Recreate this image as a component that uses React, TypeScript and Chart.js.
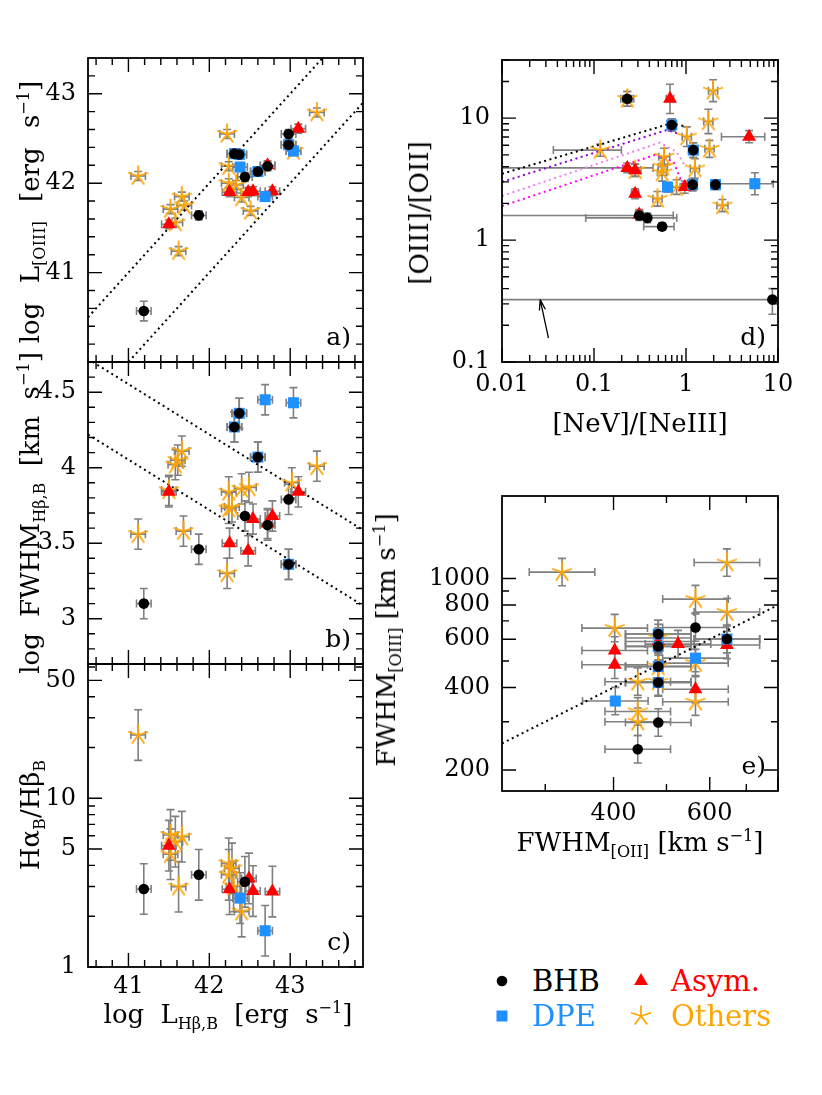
import React, { useEffect, useRef } from 'react';
import { Chart, registerables } from 'chart.js';

Chart.register(...registerables);

const FONT = '"DejaVu Serif", "Liberation Serif", serif';
const TICK_SIZE = 24;
const COL_BHB = '#000000';
const COL_DPE = '#1E90FF';
const COL_ASYM = '#FF0000';
const COL_OTH = '#FFA500';
const COL_ERR = '#808080';

// ---------- Panel a: log L(Hb,B) vs log L[OIII]  (tuples [x, y]; default errors per panel)
const A_BHB = [[41.19, 40.57, 0.09, 0.11], [41.87, 41.64], [42.31, 42.33], [42.37, 42.32], [42.44, 42.07], [42.60, 42.13], [42.72, 42.19], [42.98, 42.55], [42.98, 42.43]];
const A_DPE = [[42.31, 42.33], [42.37, 42.32], [42.38, 42.18], [42.60, 42.13], [42.98, 42.43], [43.04, 42.36], [42.69, 41.85]];
const A_ASYM = [[41.50, 41.54], [42.25, 41.90], [42.48, 41.90], [42.54, 41.91], [42.78, 41.91], [42.72, 42.20], [43.10, 42.61]];
const A_OTH = [[41.12, 42.08], [42.22, 42.55], [43.33, 42.79], [42.24, 42.19], [42.24, 42.00], [42.33, 41.98], [42.40, 41.84], [42.51, 41.69], [41.66, 41.85], [41.69, 41.75], [41.52, 41.71], [41.58, 41.56], [41.62, 41.24], [43.04, 42.36]];
const A_LINE1 = [[40.5, 40.5], [43.9, 43.9]];
const A_LINE2 = [[40.5, 39.5], [43.9, 42.9]];

// ---------- Panel b: log L(Hb,B) vs log FWHM(Hb,B)
const B_BHB = [[42.37, 4.36], [42.31, 4.27], [42.60, 4.07], [42.98, 3.79], [42.44, 3.68], [42.72, 3.62], [41.87, 3.46], [41.19, 3.10], [42.98, 3.36]];
const B_DPE = [[42.37, 4.36], [42.31, 4.27], [42.60, 4.07], [42.98, 3.36], [42.69, 4.45], [43.04, 4.43]];
const B_ASYM = [[41.50, 3.84], [42.25, 3.50], [42.48, 3.45], [42.54, 3.66], [42.78, 3.68], [43.10, 3.84], [42.72, 3.63]];
const B_OTH = [[41.12, 3.56], [41.66, 4.11], [41.61, 4.05], [41.58, 4.02], [41.50, 3.85], [41.68, 3.58], [42.22, 3.30], [42.24, 3.84], [42.40, 3.86], [42.49, 3.87], [42.24, 3.73], [42.28, 3.74], [43.02, 3.90], [43.33, 4.01]];
const B_LINE1 = [[40.5, 4.72], [43.9, 3.587]];
const B_LINE2 = [[40.5, 4.22], [43.9, 3.087]];

// ---------- Panel c: log L(Hb,B) vs Ha_B/Hb_B (y errors in dex)
const C_BHB = [[41.19, 2.90], [41.87, 3.52], [42.44, 3.20]];
const C_DPE = [[42.38, 2.56], [42.69, 1.64]];
const C_ASYM = [[41.50, 5.24], [42.25, 2.89], [42.54, 2.82], [42.78, 2.80], [42.49, 3.35]];
const C_OTH = [[41.12, 23.7], [41.52, 6.06], [41.58, 5.53], [41.66, 5.92], [41.52, 4.66], [41.62, 2.99], [42.24, 4.12], [42.28, 3.84], [42.24, 3.52], [42.40, 2.13], [42.30, 3.0]];

// ---------- Panel d: [NeV]/[NeIII] vs [OIII]/[OII]  ([x, y, exLo, exHi, eyLo, eyHi] in dex)
const D_BHB = [[0.23, 14.4, 0.05, 0.05, 0.06, 0.06], [0.70, 8.8, 0.04, 0.04, 0.05, 0.05], [1.20, 5.47, 0.05, 0.05, 0.06, 0.06], [1.18, 2.85, 0.05, 0.05, 0.05, 0.05], [2.09, 2.85, 0.05, 0.05, 0.04, 0.04], [0.31, 1.59, 2.5, 0.37, 0.04, 0.04], [0.38, 1.52, 0.67, 0.32, 0.04, 0.04], [0.55, 1.29, 0.2, 0.13, 0.03, 0.03], [8.69, 0.325, 3.5, 0, 0.12, 0.09]];
const D_DPE = [[0.70, 8.8, 0.04, 0.04, 0.05, 0.05], [1.20, 5.47, 0.05, 0.05, 0.06, 0.06], [1.18, 2.85, 0.05, 0.05, 0.05, 0.05], [2.09, 2.85, 0.05, 0.05, 0.04, 0.04], [0.63, 2.72, 0.04, 0.04, 0.04, 0.04], [5.6, 2.9, 0.43, 0.2, 0.09, 0.09]];
const D_ASYM = [[0.67, 14.4, 0.04, 0.04, 0.12, 0.12], [0.23, 3.91, 2.5, 0.28, 0.04, 0.04], [0.28, 3.74, 0.06, 0.06, 0.05, 0.05], [0.28, 2.40, 0.04, 0.04, 0.04, 0.04], [0.31, 1.62, 0.04, 0.04, 0.04, 0.04], [4.85, 7.05, 0.3, 0.17, 0.05, 0.05], [0.97, 2.72, 0.05, 0.05, 0.05, 0.05]];
const D_OTH = [[0.23, 14.4, 0.07, 0.07, 0.06, 0.06], [0.117, 5.47, 0.51, 0.23, 0.05, 0.05], [1.97, 16.8, 0.05, 0.05, 0.09, 0.09], [1.75, 9.4, 0.05, 0.05, 0.1, 0.1], [1.8, 5.6, 0.05, 0.05, 0.07, 0.07], [1.02, 7.05, 0.05, 0.05, 0.08, 0.08], [1.25, 3.87, 0.05, 0.05, 0.08, 0.08], [0.58, 4.82, 0.06, 0.06, 0.07, 0.07], [0.56, 4.0, 0.05, 0.05, 0.07, 0.07], [0.55, 3.58, 0.05, 0.05, 0.07, 0.07], [0.49, 2.18, 0.05, 0.05, 0.06, 0.06], [0.79, 2.72, 0.05, 0.05, 0.06, 0.06], [2.49, 1.92, 0.06, 0.06, 0.05, 0.05], [0.28, 3.74, 0.06, 0.06, 0.05, 0.05]];
const D_CURVE_BLACK = [[0.01, 3.5], [0.7, 9.1], [1.02, 8.5]];
const D_CURVE_PURPLE = [[0.01, 3.0], [0.62, 8.0], [0.85, 7.4]];
const D_CURVE_VIOLET = [[0.01, 2.3], [0.52, 6.3], [0.79, 5.3], [0.97, 4.1]];
const D_CURVE_MAGENTA = [[0.01, 1.9], [0.46, 5.0], [0.73, 4.4], [0.93, 2.8], [1.0, 2.6]];
const D_ARROW = [[0.032, 0.157], [0.026, 0.325]];

// ---------- Panel e: FWHM[OII] vs FWHM[OIII] (errors in dex)
const E_BHB = [[483, 627], [483, 565], [483, 477], [483, 417], [483, 298], [443, 238], [565, 662], [645, 601]];
const E_DPE = [[483, 627], [483, 565], [483, 477], [483, 417], [645, 601], [403, 357], [565, 512]];
const E_ASYM = [[402, 546], [402, 484], [483, 589], [525, 576], [565, 394], [645, 572]];
const E_OTH = [[322, 1055], [645, 1143], [565, 841], [645, 754], [402, 659], [483, 606], [483, 477], [565, 491], [443, 420], [443, 327], [443, 300], [565, 355], [483, 420]];
const E_LINE = [[250, 250], [800, 800]];

// ---------- Axis ticks
const X_LHB_MAJOR = [41, 42, 43];
const X_LHB_MINOR = [40.6, 40.8, 41.2, 41.4, 41.6, 41.8, 42.2, 42.4, 42.6, 42.8, 43.2, 43.4, 43.6, 43.8];
const A_Y_MAJOR = [41, 42, 43];
const A_Y_MINOR = [40.2, 40.4, 40.6, 40.8, 41.2, 41.4, 41.6, 41.8, 42.2, 42.4, 42.6, 42.8, 43.2];
const B_Y_MAJOR = [3, 3.5, 4, 4.5];
const B_Y_MINOR = [2.8, 2.9, 3.1, 3.2, 3.3, 3.4, 3.6, 3.7, 3.8, 3.9, 4.1, 4.2, 4.3, 4.4, 4.6];
const C_Y_MAJOR = [1, 5, 10, 50];
const C_Y_MINOR = [2, 3, 4, 6, 7, 8, 9, 20, 30, 40, 60];
const D_X_MAJOR = [0.01, 0.1, 1, 10];
const D_X_MINOR = [0.02, 0.03, 0.04, 0.05, 0.06, 0.07, 0.08, 0.09, 0.2, 0.3, 0.4, 0.5, 0.6, 0.7, 0.8, 0.9, 2, 3, 4, 5, 6, 7, 8, 9];
const D_Y_MAJOR = [0.1, 1, 10];
const D_Y_MINOR = [0.2, 0.3, 0.4, 0.5, 0.6, 0.7, 0.8, 0.9, 2, 3, 4, 5, 6, 7, 8, 9, 20, 30];
const E_X_MAJOR = [400, 600, 800];
const E_X_MINOR = [300, 500, 700];
const E_X_LABELS = [400, 600];
const E_Y_MAJOR = [200, 400, 600, 800, 1000];
const E_Y_MINOR = [300, 500, 700, 900];

type Axis = { type: 'linear' | 'logarithmic'; min: number; max: number; major: number[]; minor: number[]; labels: number[] | null };
type Panel = {
  id: string; area: number[]; x: Axis; y: Axis; err: number[];
  groups: number[][][]; lines: { pts: number[][]; color: string }[];
  tag: string; arrow?: number[][]; xPad: number;
};

const XL: Axis = { type: 'linear', min: 40.5, max: 43.9, major: X_LHB_MAJOR, minor: X_LHB_MINOR, labels: X_LHB_MAJOR };

const PANELS: Panel[] = [
  {
    id: 'a', area: [88, 58, 363, 362], err: [0.09, 0.05], tag: 'a)', xPad: 6,
    x: { ...XL, labels: null },
    y: { type: 'linear', min: 40, max: 43.4, major: A_Y_MAJOR, minor: A_Y_MINOR, labels: A_Y_MAJOR },
    groups: [A_BHB, A_DPE, A_ASYM, A_OTH],
    lines: [{ pts: A_LINE1, color: '#000' }, { pts: A_LINE2, color: '#000' }],
  },
  {
    id: 'b', area: [88, 362, 363, 664], err: [0.09, 0.1], tag: 'b)', xPad: 6,
    x: { ...XL, labels: null },
    y: { type: 'linear', min: 2.7, max: 4.7, major: B_Y_MAJOR, minor: B_Y_MINOR, labels: B_Y_MAJOR },
    groups: [B_BHB, B_DPE, B_ASYM, B_OTH],
    lines: [{ pts: B_LINE1, color: '#000' }, { pts: B_LINE2, color: '#000' }],
  },
  {
    id: 'c', area: [88, 664, 363, 967], err: [0.09, 0.15], tag: 'c)', xPad: 5,
    x: XL,
    y: { type: 'logarithmic', min: 1, max: 62.5, major: C_Y_MAJOR, minor: C_Y_MINOR, labels: C_Y_MAJOR },
    groups: [C_BHB, C_DPE, C_ASYM, C_OTH],
    lines: [],
  },
  {
    id: 'd', area: [502, 60, 778, 362], err: [0.05, 0.05], tag: 'd)', xPad: 8,
    x: { type: 'logarithmic', min: 0.01, max: 10, major: D_X_MAJOR, minor: D_X_MINOR, labels: D_X_MAJOR },
    y: { type: 'logarithmic', min: 0.1, max: 30, major: D_Y_MAJOR, minor: D_Y_MINOR, labels: D_Y_MAJOR },
    groups: [D_BHB, D_DPE, D_ASYM, D_OTH],
    lines: [
      { pts: D_CURVE_BLACK, color: '#000000' },
      { pts: D_CURVE_PURPLE, color: '#9400D3' },
      { pts: D_CURVE_VIOLET, color: '#EE82EE' },
      { pts: D_CURVE_MAGENTA, color: '#FF00FF' },
    ],
    arrow: D_ARROW,
  },
  {
    id: 'e', area: [502, 496, 778, 791], err: [0.06, 0.05], tag: 'e)', xPad: 8,
    x: { type: 'logarithmic', min: 250, max: 800, major: E_X_MAJOR, minor: E_X_MINOR, labels: E_X_LABELS },
    y: { type: 'logarithmic', min: 167.6, max: 2000, major: E_Y_MAJOR, minor: E_Y_MINOR, labels: E_Y_MAJOR },
    groups: [E_BHB, E_DPE, E_ASYM, E_OTH],
    lines: [{ pts: E_LINE, color: '#000' }],
  },
];

const YW = 85, PT = 20, PR = 40, XH = 60;

let STAR: HTMLCanvasElement | null = null;
function starImage() {
  if (STAR) return STAR;
  const s = 24;
  const c = document.createElement('canvas');
  c.width = s; c.height = s;
  const g = c.getContext('2d')!;
  g.strokeStyle = COL_OTH; g.lineWidth = 1.8;
  g.beginPath();
  for (let k = 0; k < 5; k++) {
    const a = (-90 + 72 * k) * Math.PI / 180;
    g.moveTo(s / 2, s / 2);
    g.lineTo(s / 2 + 10.5 * Math.cos(a), s / 2 + 10.5 * Math.sin(a));
  }
  g.stroke();
  STAR = c;
  return c;
}

function errOf(p: number[], def: number[]) {
  if (p.length >= 6) return p.slice(2, 6);
  if (p.length >= 4) return [p[2], p[2], p[3], p[3]];
  return [def[0], def[0], def[1], def[1]];
}

function scaleCfg(ax: Axis, pos: 'left' | 'bottom', pad: number) {
  return {
    type: ax.type, min: ax.min, max: ax.max, position: pos, bounds: 'data',
    grid: { display: false, drawTicks: false },
    border: { display: false },
    ticks: {
      display: !!ax.labels, autoSkip: false, maxRotation: 0, minRotation: 0,
      padding: pad, color: '#000',
      font: { family: FONT, size: TICK_SIZE },
      callback: (v: any) => String(v),
    },
    afterBuildTicks: (s: any) => { s.ticks = (ax.labels || ax.major).map((v) => ({ value: v })); },
    afterFit: (s: any) => {
      if (pos === 'left') s.width = YW; else s.height = XH;
      s.paddingLeft = 0; s.paddingRight = 0; s.paddingTop = 0; s.paddingBottom = 0;
    },
  };
}

function makePlugin(spec: Panel) {
  return {
    id: 'panel_' + spec.id,
    beforeDatasetsDraw(chart: any) {
      const ctx = chart.ctx;
      const { left, right, top, bottom } = chart.chartArea;
      const xs = chart.scales.x, ys = chart.scales.y;
      const xlog = spec.x.type === 'logarithmic', ylog = spec.y.type === 'logarithmic';
      const CAP = 4;
      ctx.save();
      ctx.beginPath(); ctx.rect(left, top, right - left, bottom - top); ctx.clip();
      ctx.strokeStyle = COL_ERR; ctx.lineWidth = 1.6;
      chart.data.datasets.forEach((ds: any) => {
        if (!ds.errs) return;
        ds.data.forEach((pt: any, i: number) => {
          const [exl, exh, eyl, eyh] = ds.errs[i];
          const px = xs.getPixelForValue(pt.x), py = ys.getPixelForValue(pt.y);
          const x0 = xs.getPixelForValue(xlog ? pt.x / Math.pow(10, exl) : pt.x - exl);
          const x1 = xs.getPixelForValue(xlog ? pt.x * Math.pow(10, exh) : pt.x + exh);
          const y0 = ys.getPixelForValue(ylog ? pt.y / Math.pow(10, eyl) : pt.y - eyl);
          const y1 = ys.getPixelForValue(ylog ? pt.y * Math.pow(10, eyh) : pt.y + eyh);
          ctx.beginPath();
          ctx.moveTo(x0, py); ctx.lineTo(x1, py);
          if (exl > 0) { ctx.moveTo(x0, py - CAP); ctx.lineTo(x0, py + CAP); }
          if (exh > 0) { ctx.moveTo(x1, py - CAP); ctx.lineTo(x1, py + CAP); }
          ctx.moveTo(px, y0); ctx.lineTo(px, y1);
          if (eyl > 0) { ctx.moveTo(px - CAP, y0); ctx.lineTo(px + CAP, y0); }
          if (eyh > 0) { ctx.moveTo(px - CAP, y1); ctx.lineTo(px + CAP, y1); }
          ctx.stroke();
        });
      });
      ctx.restore();
    },
    afterDatasetsDraw(chart: any) {
      const ctx = chart.ctx;
      const { left, right, top, bottom } = chart.chartArea;
      const xs = chart.scales.x, ys = chart.scales.y;
      ctx.save();
      ctx.strokeStyle = '#000'; ctx.lineWidth = 1.4;
      ctx.beginPath();
      const xt = (vals: number[], len: number) => vals.forEach((v) => {
        const p = xs.getPixelForValue(v);
        if (p < left - 0.5 || p > right + 0.5) return;
        ctx.moveTo(p, bottom); ctx.lineTo(p, bottom - len);
        ctx.moveTo(p, top); ctx.lineTo(p, top + len);
      });
      const yt = (vals: number[], len: number) => vals.forEach((v) => {
        const p = ys.getPixelForValue(v);
        if (p < top - 0.5 || p > bottom + 0.5) return;
        ctx.moveTo(left, p); ctx.lineTo(left + len, p);
        ctx.moveTo(right, p); ctx.lineTo(right - len, p);
      });
      xt(spec.x.major, 14); xt(spec.x.minor, 7);
      yt(spec.y.major, 14); yt(spec.y.minor, 7);
      ctx.stroke();
      ctx.lineWidth = 1.8;
      ctx.strokeRect(left, top, right - left, bottom - top);
      if (spec.arrow) {
        const [[ax0, ay0], [ax1, ay1]] = spec.arrow;
        const p0x = xs.getPixelForValue(ax0), p0y = ys.getPixelForValue(ay0);
        const p1x = xs.getPixelForValue(ax1), p1y = ys.getPixelForValue(ay1);
        const ang = Math.atan2(p1y - p0y, p1x - p0x);
        ctx.lineWidth = 1.3;
        ctx.beginPath();
        ctx.moveTo(p0x, p0y); ctx.lineTo(p1x, p1y);
        ctx.moveTo(p1x, p1y); ctx.lineTo(p1x - 11 * Math.cos(ang - 0.28), p1y - 11 * Math.sin(ang - 0.28));
        ctx.moveTo(p1x, p1y); ctx.lineTo(p1x - 11 * Math.cos(ang + 0.28), p1y - 11 * Math.sin(ang + 0.28));
        ctx.stroke();
      }
      ctx.fillStyle = '#000';
      ctx.font = `25px ${FONT}`;
      ctx.textAlign = 'right';
      ctx.textBaseline = 'alphabetic';
      ctx.fillText(spec.tag, right - 12, bottom - 17);
      ctx.restore();
    },
  };
}

const GROUP_STYLE = [
  { label: 'BHB', style: 'circle', radius: 5.3, color: COL_BHB },
  { label: 'DPE', style: 'rect', radius: 7.8, color: COL_DPE },
  { label: 'Asym.', style: 'triangle', radius: 8, color: COL_ASYM },
  { label: 'Others', style: 'star', radius: 10, color: COL_OTH },
];

function PanelChart({ spec }: { spec: Panel }) {
  const ref = useRef<HTMLCanvasElement>(null);
  const [l, t, r, b] = spec.area;
  const w = r - l + YW + PR;
  const h = b - t + PT + XH;
  useEffect(() => {
    const datasets: any[] = [];
    GROUP_STYLE.forEach((g, gi) => {
      const pts = spec.groups[gi];
      datasets.push({
        label: g.label,
        data: pts.map((p) => ({ x: p[0], y: p[1] })),
        errs: pts.map((p) => errOf(p, spec.err)),
        pointStyle: g.style === 'star' ? starImage() : g.style,
        pointRadius: g.radius,
        pointHoverRadius: g.radius,
        backgroundColor: g.color,
        borderColor: g.color,
        borderWidth: 0,
        clip: false,
      });
    });
    spec.lines.forEach((ln, i) => {
      datasets.push({
        label: 'line' + i,
        data: ln.pts.map((p) => ({ x: p[0], y: p[1] })),
        showLine: true,
        pointRadius: 0,
        borderColor: ln.color,
        borderWidth: 2,
        borderDash: [2, 3.5],
        fill: false,
        tension: 0,
        clip: 0,
      });
    });
    const chart = new Chart(ref.current!, {
      type: 'scatter',
      data: { datasets },
      options: {
        responsive: false,
        animation: false,
        devicePixelRatio: 1,
        events: [],
        layout: { padding: { left: 0, top: PT, right: PR, bottom: 0 }, autoPadding: false },
        plugins: { legend: { display: false }, tooltip: { enabled: false } },
        scales: { x: scaleCfg(spec.x, 'bottom', spec.xPad), y: scaleCfg(spec.y, 'left', 12) } as any,
      } as any,
      plugins: [makePlugin(spec)],
    });
    return () => chart.destroy();
  }, [spec]);
  return (
    <canvas
      ref={ref}
      width={w}
      height={h}
      style={{ position: 'absolute', left: l - YW, top: t - PT, width: w, height: h }}
    />
  );
}

const subS: React.CSSProperties = { fontSize: '0.62em', position: 'relative', top: '0.35em' };
const supS: React.CSSProperties = { fontSize: '0.62em', position: 'relative', top: '-0.6em' };

function Txt({ x, y, rot, size = 26, ws = 0, color = '#000', children }: any) {
  return (
    <div
      style={{
        position: 'absolute', left: x, top: y,
        transform: `translate(-50%, -50%)${rot ? ' rotate(-90deg)' : ''}`,
        fontFamily: FONT, fontSize: size, lineHeight: 1, whiteSpace: 'nowrap', color,
        wordSpacing: ws,
      }}
    >
      {children}
    </div>
  );
}

function Marker({ kind }: { kind: string }) {
  return (
    <svg width={26} height={26} viewBox="-13 -13 26 26" style={{ display: 'block' }}>
      {kind === 'circle' && <circle cx={0} cy={0} r={5.3} fill={COL_BHB} />}
      {kind === 'rect' && <rect x={-5.5} y={-5.5} width={11} height={11} fill={COL_DPE} />}
      {kind === 'triangle' && <polygon points="0,-8 6.93,4 -6.93,4" fill={COL_ASYM} />}
      {kind === 'star' && (
        <path
          d="M0 0L0 -10.5M0 0L9.99 -3.24M0 0L6.17 8.49M0 0L-6.17 8.49M0 0L-9.99 -3.24"
          stroke={COL_OTH} strokeWidth={1.8} fill="none"
        />
      )}
    </svg>
  );
}

function LegendItem({ x, y, kind, text, color }: any) {
  return (
    <>
      <div style={{ position: 'absolute', left: x - 13, top: y - 13 }}><Marker kind={kind} /></div>
      <div style={{ position: 'absolute', left: x + 30, top: y, transform: 'translateY(-50%)', fontFamily: FONT, fontSize: 29, lineHeight: 1, color, whiteSpace: 'nowrap' }}>{text}</div>
    </>
  );
}

export default function App() {
  return (
    <div style={{ position: 'absolute', left: 0, top: 0, width: 822, height: 1095, background: '#fff', overflow: 'hidden' }}>
      {PANELS.map((p) => <PanelChart key={p.id} spec={p} />)}

      <Txt x={30} y={212} rot ws={11}>log L<span style={subS}>[OIII]</span> [erg s<span style={supS}>−1</span>]</Txt>
      <Txt x={30} y={513} rot ws={8}>log FWHM<span style={subS}>Hβ,B</span> [km s<span style={supS}>−1</span>]</Txt>
      <Txt x={30} y={815} rot>Hα<span style={subS}>B</span>/Hβ<span style={subS}>B</span></Txt>
      <Txt x={228} y={1014} ws={8}>log L<span style={subS}>Hβ,B</span> [erg s<span style={supS}>−1</span>]</Txt>

      <Txt x={419} y={213} rot>[OIII]/[OII]</Txt>
      <Txt x={640} y={423}>[NeV]/[NeIII]</Txt>

      <Txt x={386} y={640} rot>FWHM<span style={subS}>[OIII]</span> [km s<span style={supS}>−1</span>]</Txt>
      <Txt x={640} y={842}>FWHM<span style={subS}>[OII]</span> [km s<span style={supS}>−1</span>]</Txt>

      <LegendItem x={502} y={981} kind="circle" text="BHB" color={COL_BHB} />
      <LegendItem x={641} y={981} kind="triangle" text="Asym." color={COL_ASYM} />
      <LegendItem x={502} y={1016} kind="rect" text="DPE" color={COL_DPE} />
      <LegendItem x={641} y={1016} kind="star" text="Others" color={COL_OTH} />
    </div>
  );
}
